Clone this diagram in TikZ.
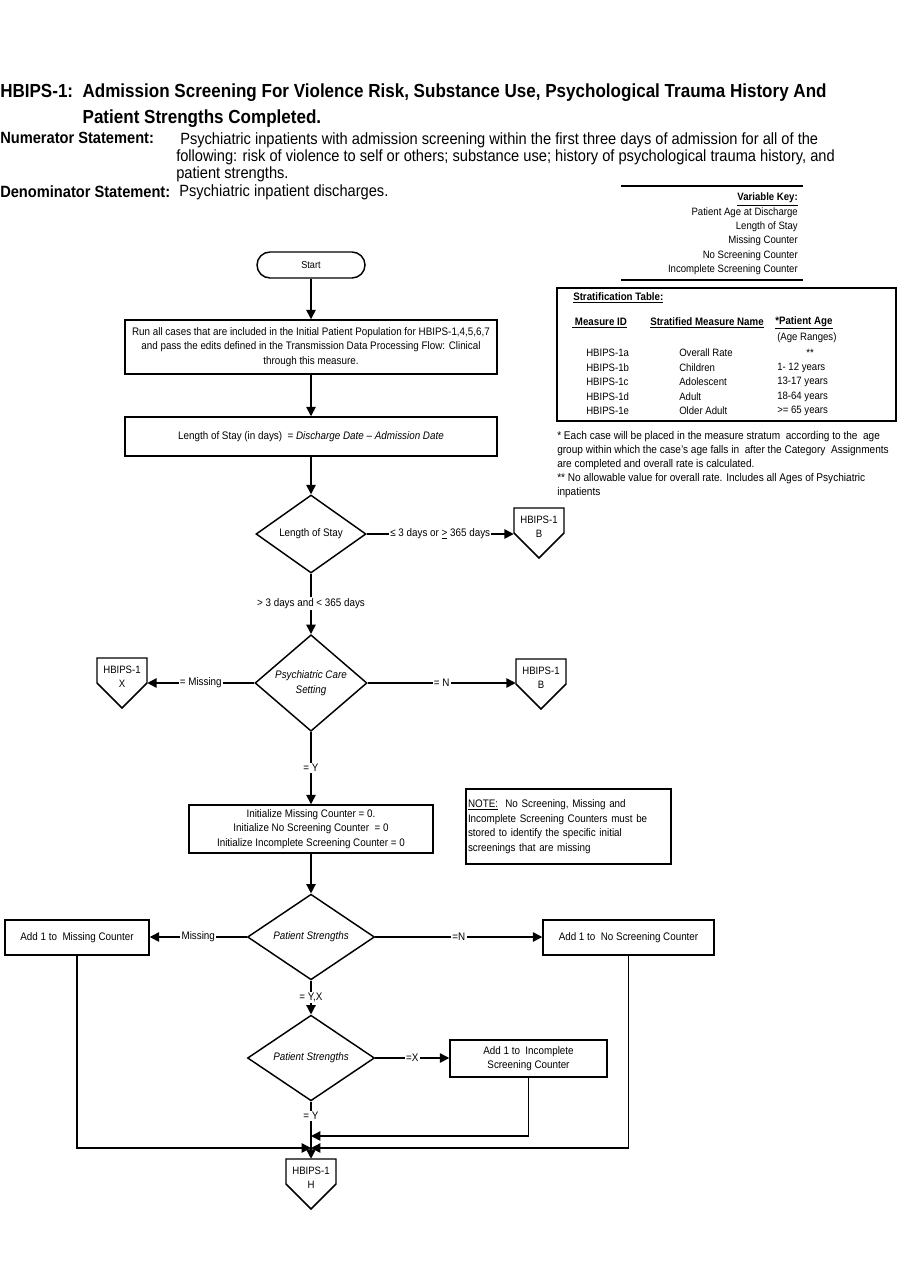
\documentclass[tikz,border=0pt]{standalone}
\usepackage{fontspec}
\setmainfont{Liberation Sans}[FakeStretch=0.9]
\usepackage{tikz}
\usetikzlibrary{arrows.meta,positioning,shapes,calc}
\newdimen\pxl
\pxl=0.75pt
\tikzset{
  % flow text
  every node/.append style={font=\fontsize{8.2}{11}\selectfont},
  % plain text
  txt/.style={inner sep=0pt},
  % process box
  proc/.style={draw, line width=1.1pt, align=center, inner sep=2pt},
  % start terminal
  term/.style={draw, line width=1.1pt, rounded corners=13\pxl,
    minimum width=108\pxl, minimum height=26\pxl, inner sep=0pt,
    font=\fontsize{7.6}{9}\selectfont},
  % decision
  decide/.style={diamond, draw, line width=1.1pt, inner sep=0pt, align=center,
    minimum width=127\pxl, minimum height=73\pxl},
  % off-page connector (pentagon drawn below)
  offpage/.style={minimum width=50\pxl, minimum height=38\pxl, inner sep=0pt,
    align=center, font=\fontsize{8}{10.5}\selectfont},
  % arrows
  arr/.style={-{Triangle[length=7pt,width=7pt]}, line width=1.1pt},
  lbl/.style={fill=white, inner sep=1pt, font=\fontsize{8.2}{10}\selectfont},
  % key and table text
  keytext/.style={inner sep=0pt, font=\fontsize{8}{10.7}\selectfont},
  headtext/.style={inner sep=0pt, font=\fontsize{8.1}{10.7}\selectfont\bfseries},
}

\begin{document}
\begin{tikzpicture}[x=0.75pt, y=-0.75pt]
    \useasboundingbox (0,0) rectangle (901,1287);

    % Heading
    \node[txt, anchor=west, font=\fontsize{14.2}{16}\selectfont\bfseries] (title1) at (0,93)
      {HBIPS-1:\ \ Admission Screening For Violence Risk, Substance Use, Psychological Trauma History And};
    \node[txt, anchor=west, font=\fontsize{14.2}{16}\selectfont\bfseries] (title2) at (0,119)
      {\phantom{HBIPS-1:\ \ }Patient Strengths Completed.};
    \node[txt, anchor=west, font=\fontsize{12.2}{13.1}\selectfont\bfseries] (numlab) at (0,138) {Numerator Statement:};
    \node[txt, anchor=north west, align=left, font=\fontsize{12.2}{13.1}\selectfont] (numtext) at (176,132)
      {\hspace*{4\pxl}Psychiatric inpatients with admission screening within the first three days of admission for all of the\\
       following: risk of violence to self or others; substance use; history of psychological trauma history, and\\
       patient strengths.};
    \node[txt, anchor=west, font=\fontsize{12.2}{13.1}\selectfont\bfseries] (denlab) at (0,192) {Denominator Statement:};
    \node[txt, anchor=west, font=\fontsize{12.2}{13.1}\selectfont] (dentext) at (179,192) {Psychiatric inpatient discharges.};

    % Variable key
    \draw[line width=1.5pt] (621,186) -- (803,186);
    \node[keytext, anchor=north east, align=right] (varkey) at (798,193)
      {\textbf{\underline{Variable Key:}}\\ Patient Age at Discharge\\ Length of Stay\\ Missing Counter\\
       No Screening Counter\\ Incomplete Screening Counter};
    \draw[line width=1.5pt] (621,280) -- (803,280);

    % Stratification table
    \node[draw, line width=1.1pt, minimum width=339\pxl, minimum height=133\pxl] (strat) at (726.5,354.5) {};
    \node[headtext, anchor=west] (strattitle) at (573,298) {\underline{Stratification Table:}};
    \node[headtext, anchor=west] (hid) at (572,323) {\underline{\ Measure ID}};
    \node[headtext, anchor=west] (hname) at (650,323) {\underline{Stratified Measure Name}};
    \node[headtext, anchor=west] (hage) at (775,323) {\underline{*Patient Age}};
    \node[keytext, anchor=west] (hrange) at (777,338) {(Age Ranges)};
    \foreach \id/\nm/\age [count=\i] in {HBIPS-1a/Overall Rate/\hspace*{29\pxl}**,
        HBIPS-1b/Children/1- 12 years, HBIPS-1c/Adolescent/13-17 years,
        HBIPS-1d/Adult/18-64 years, HBIPS-1e/Older Adult/>= 65 years} {
      \node[keytext, anchor=west] at (586,{353+14.5*(\i-1)}) {\id};
      \node[keytext, anchor=west] at (679,{353+14.5*(\i-1)}) {\nm};
      \node[keytext, anchor=west] at (777,{353+14.5*(\i-1)}) {\age};
    }
    \node[keytext, anchor=north west, align=left, font=\fontsize{8.4}{10.5}\selectfont] (stratnote) at (557,431)
      {* Each case will be placed in the measure stratum\ \ according to the\ \ age\\
       group within which the case's age falls in\ \ after the Category\ \ Assignments\\
       are completed and overall rate is calculated.\\
       ** No allowable value for overall rate. Includes all Ages of Psychiatric\\
       inpatients};

    % Flow
    \node[term] (start) at (311,265) {Start};
    \node[proc, minimum width=372\pxl, minimum height=54\pxl] (run) at (311,347)
      {Run all cases that are included in the Initial Patient Population for HBIPS-1,4,5,6,7\\
       and pass the edits defined in the Transmission Data Processing Flow: Clinical\\
       through this measure.};
    \node[proc, minimum width=372\pxl, minimum height=39\pxl] (los) at (311,436.5)
      {Length of Stay (in days)\ \ = \textit{Discharge Date – Admission Date}};
    \node[decide, minimum width=110\pxl, minimum height=78\pxl] (dlos) at (311,534) {Length of Stay};
    \node[offpage] (b1) at (539,527) {HBIPS-1\\B};
    \node[decide, minimum width=112\pxl, minimum height=78\pxl, font=\fontsize{8.2}{11}\selectfont\itshape] (dpsy) at (311,683)
      {Psychiatric Care\\Setting};
    \node[offpage] (cx) at (122,677) {HBIPS-1\\X};
    \node[offpage] (b2) at (541,678) {HBIPS-1\\B};
    \node[proc, minimum width=244\pxl, minimum height=48\pxl] (init) at (311,829)
      {Initialize Missing Counter = 0.\\ Initialize No Screening Counter\ \ = 0\\ Initialize Incomplete Screening Counter = 0};
    \node[draw, line width=1.1pt, align=left, text width=201\pxl, inner xsep=2\pxl, minimum height=75\pxl] (note) at (568.5,826.5)
      {\underline{NOTE:}\ \ No Screening, Missing and\\ Incomplete Screening Counters must be\\
       stored to identify the specific initial\\ screenings that are missing};
    \node[decide, font=\fontsize{8.2}{11}\selectfont\itshape] (dps1) at (311,937) {Patient Strengths};
    \node[proc, minimum width=144\pxl, minimum height=35\pxl] (addmiss) at (77,937.5) {Add 1 to\ \ Missing Counter};
    \node[proc, minimum width=171\pxl, minimum height=35\pxl] (addnos) at (628.5,937.5) {Add 1 to\ \ No Screening Counter};
    \node[decide, font=\fontsize{8.2}{11}\selectfont\itshape] (dps2) at (311,1058) {Patient Strengths};
    \node[proc, minimum width=157\pxl, minimum height=37\pxl] (addinc) at (528.5,1058.5) {Add 1 to\ \ Incomplete\\Screening Counter};
    \node[offpage] (ch) at (311,1178) {HBIPS-1\\H};
    \coordinate (mergeA) at (311,1148);
    \coordinate (mergeB) at (311,1136);

    % Off-page connectors
    \foreach \c in {b1,cx,b2,ch}
      \draw[line width=1.1pt] ([shift={(-25,-19)}]\c.center) -- ([shift={(25,-19)}]\c.center)
        -- ([shift={(25,6)}]\c.center) -- ([shift={(0,31)}]\c.center) -- ([shift={(-25,6)}]\c.center) -- cycle;

    % Connectors
    \draw[arr] (start) -- (run);
    \draw[arr] (run) -- (los);
    \draw[arr] (los) -- (dlos);
    \draw[arr] (dlos.east) -- node[lbl] {≤ 3 days or \underline{>} 365 days} (dlos.east -| b1.west);
    \draw[arr] (dlos) -- node[lbl] {> 3 days and < 365 days} (dpsy);
    \draw[arr] (dpsy.west) -- node[lbl] {= Missing} (dpsy.west -| cx.east);
    \draw[arr] (dpsy.east) -- node[lbl] {= N} (dpsy.east -| b2.west);
    \draw[arr] (dpsy) -- node[lbl] {= Y} (init);
    \draw[arr] (init) -- (dps1);
    \draw[arr] (dps1.west) -- node[lbl] {Missing} (dps1.west -| addmiss.east);
    \draw[arr] (dps1.east) -- node[lbl] {=N} (dps1.east -| addnos.west);
    \draw[arr] (dps1) -- node[lbl] {= Y,X} (dps2);
    \draw[arr] (dps2.east) -- node[lbl] {=X} (dps2.east -| addinc.west);
    \draw[arr] (dps2) -- node[lbl, pos=0.25] {= Y} (ch);
    \draw[arr] (addmiss) |- (mergeA);
    \draw[arr] (addnos) |- (mergeA);
    \draw[arr] (addinc) |- (mergeB);
\end{tikzpicture}
\end{document}
